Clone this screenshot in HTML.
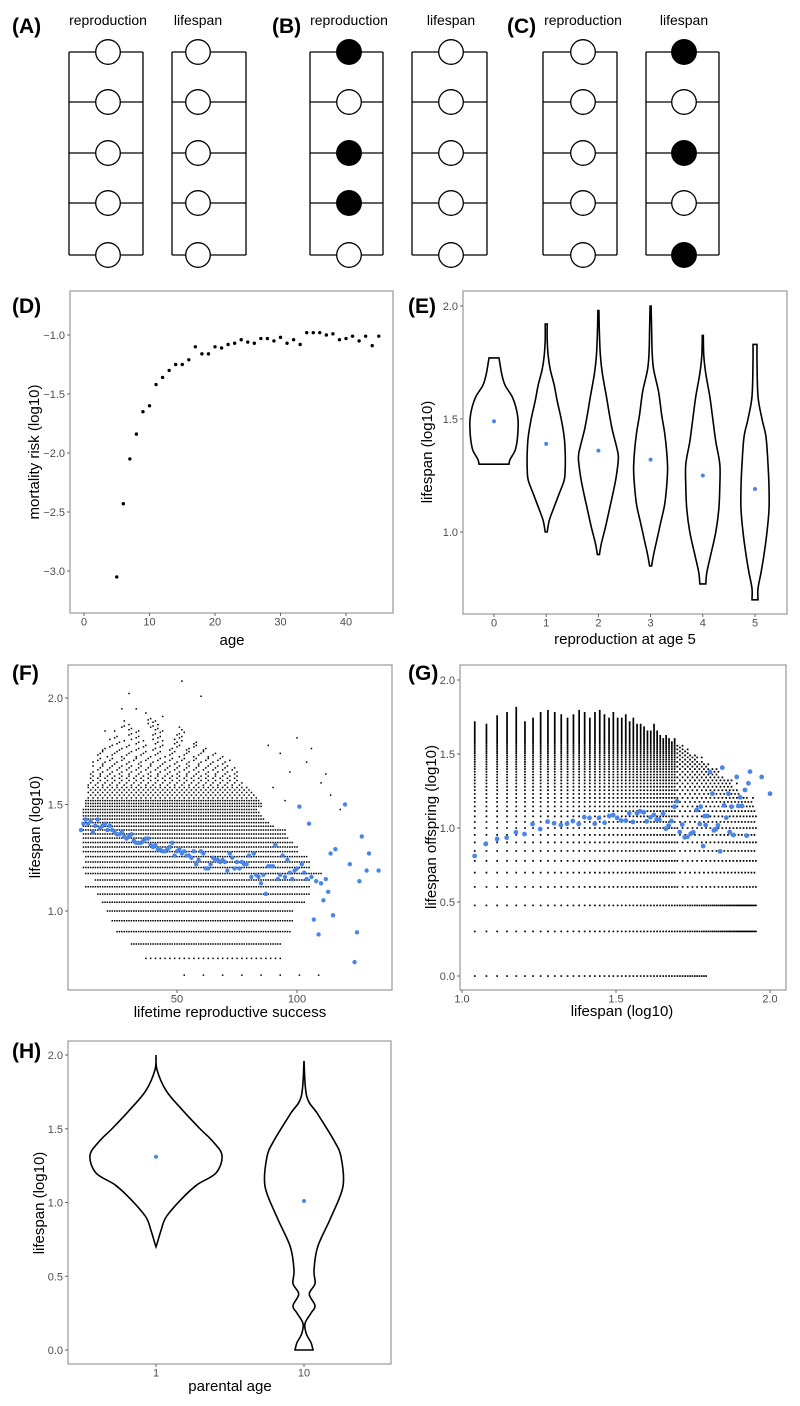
<!DOCTYPE html>
<html><head><meta charset="utf-8"><style>
html,body{margin:0;padding:0;background:#fff;}
svg{display:block;font-family:"Liberation Sans",Arial,sans-serif;}
</style></head><body>
<svg id="fig" width="800" height="1406" viewBox="0 0 800 1406" xmlns="http://www.w3.org/2000/svg"></svg>
<script>
// ---------- Panel D data ----------
const ageD = [5,6,7,8,9,10,11,12,13,14,15,16,17,18,19,20,21,22,23,24,25,26,27,28,29,30,31,32,33,34,35,36,37,38,39,40,41,42,43,44,45];
const mortD = [-3.05,-2.43,-2.05,-1.84,-1.65,-1.60,-1.42,-1.36,-1.30,-1.25,-1.25,-1.21,-1.10,-1.16,-1.16,-1.10,-1.11,-1.08,-1.07,-1.04,-1.06,-1.07,-1.03,-1.03,-1.05,-1.02,-1.07,-1.04,-1.08,-0.98,-0.98,-0.98,-1.00,-0.99,-1.04,-1.03,-1.01,-1.05,-1.01,-1.09,-1.01];
const ticksDx = [0,10,20,30,40];
const ticksDy = [-3.0,-2.5,-2.0,-1.5,-1.0];
// ---------- Panel E data ----------
const catsE = ["0","1","2","3","4","5"];
const meansE = [1.49,1.39,1.36,1.32,1.25,1.19];
const violinYE = [
 [1.77,1.70,1.65,1.60,1.55,1.50,1.45,1.40,1.36,1.32,1.30],
 [1.92,1.85,1.78,1.72,1.65,1.58,1.50,1.42,1.35,1.28,1.23,1.17,1.10,1.05,1.00],
 [1.98,1.88,1.78,1.70,1.60,1.52,1.45,1.38,1.33,1.25,1.18,1.10,1.02,0.95,0.90],
 [2.00,1.90,1.80,1.72,1.62,1.52,1.44,1.36,1.28,1.20,1.12,1.04,0.96,0.90,0.85],
 [1.87,1.78,1.70,1.60,1.50,1.40,1.30,1.20,1.10,1.00,0.90,0.82,0.77],
 [1.83,1.75,1.60,1.50,1.42,1.30,1.20,1.10,1.00,0.90,0.82,0.75,0.70]];
const violinWE = [
 [5,7.7,11,18,22,24,24,23,21,16,15],
 [1,1,2,4,8,11,15,18,19,19,18,13,7,3,1],
 [0.5,1,2,4,8,11,14,18,20,18,15,11,7,3,1],
 [0.5,1,1.5,3,8,11,14,16,17,16,14,10,6,3,1],
 [0.5,1,3,7,10,13,17,17,16,13,8,4,3],
 [2,2,3,7,11,13,14,14,12,9,6,3,3]];
const ticksEy = [1.0,1.5,2.0];
// ---------- Panel F data ----------
const lifeNF = [5,6,7,8,9,10,11,12,13,14,15,16,17,18,19,20,21,22,23,24,25,26,27,28,29,30,
 31,32,33,34,35,36,37,38,39,40,41,42,43,44,45,46,47,48,49,50,51,52,53,54,55,56,57,58,59,60,
 61,62,63,64,65,66,67,68,69,70,71,72,73,74,75,76,77,78,79,80];
const lrsMinF = [48,37,31,25,23,21,19,17,12,16,12,11,12,12,11,11,11,11,11,11,11,11,11,11,11,11,
 12,12,12,13,13,13,13,13,13,13,13,14,14,14,14,15,15,15,15,15,16,16,16,17,17,17,18,18,19,19,
 20,20,21,21,22,22,23,23,24,24,25,25,26,26,27,27,28,28,29,29];
const lrsMaxF = [113,93,93,97,98,98,103,105,105,105,110,105,105,104,100,100,98,96,95,95,90,88,86,85,84,83,
 85,85,84,83,82,81,80,79,78,78,77,76,76,75,75,74,74,73,73,73,72,71,70,69,68,66,65,64,62,60,
 60,59,58,57,56,55,55,54,54,53,53,52,52,51,51,50,50,50,49,49];
const lrsStepF = [8,2,1,1,1,1,1,1,1,1,1,1,1,1,1,1,1,1,1,1,1,1,1,1,1,1,
 1,1,1,2,2,2,2,2,3,3,3,3,3,4,4,4,4,4,5,5,5,5,6,6,6,6,7,7,7,7,
 8,8,8,9,9,9,10,10,10,10,11,11,12,12,12,13,13,13,14,14];
const outlierXF = [52,30,60,27,33,37,20,44,100,106,104,110,93,97,88,114,118,112,95,90];
const outlierNF = [120,105,102,89,89,85,70,82,65,58,50,40,55,45,60,35,30,44,33,38];
const meanXF = [10,11,12,13,14,15,16,17,18,19,20,21,22,23,24,25,26,27,28,29,30,31,32,33,34,35,36,37,38,39,40,41,42,43,44,45,46,47,48,49,50,51,52,53,54,55,56,57,58,59,60,61,62,63,64,65,66,67,68,69,70,71,72,73,74,75,76,77,78,79,80,81,82,83,84,85,86,87,88,89,90,91,92,93,94,95,96,97,98,99,100,101,102,103,104,105,106,107,108,109,110,111,112,113,114,115,116,120,122,124,125,126,127,129,130,134];
const meanYF = [1.38,1.41,1.43,1.41,1.42,1.37,1.40,1.43,1.39,1.40,1.41,1.38,1.40,1.38,1.37,1.36,1.36,1.37,1.35,1.34,1.35,1.36,1.33,1.32,1.32,1.32,1.33,1.34,1.34,1.31,1.30,1.31,1.29,1.29,1.28,1.28,1.29,1.30,1.32,1.26,1.28,1.29,1.27,1.28,1.26,1.26,1.25,1.28,1.22,1.24,1.28,1.27,1.20,1.20,1.22,1.25,1.24,1.24,1.23,1.24,1.23,1.19,1.27,1.25,1.20,1.23,1.20,1.23,1.22,1.22,1.26,1.16,1.27,1.17,1.16,1.13,1.17,1.08,1.21,1.21,1.21,1.31,1.15,1.17,1.26,1.16,1.24,1.18,1.15,1.19,1.20,1.49,1.22,1.18,1.15,1.41,1.16,0.96,1.14,0.89,1.13,1.05,1.15,1.09,1.27,0.98,1.29,1.50,1.22,0.76,0.90,1.14,1.35,1.19,1.27,1.19];
const ticksFx = [50,100];
const ticksFy = [1.0,1.5,2.0];
// ---------- Panel G data ----------
const parentNG = [11,12,13,14,15,16,17,18,19,20,21,22,23,24,25,26,27,28,29,30,31,32,33,34,35,36,37,38,39,40,41,42,43,44,45,46,47,48,49,50,51,52,53,54,55,56,57,58,59,60,61,62,63,64,65,66,67,68,69,70,71,72,73,74,75,76,77,78,79,80,81,82,83,84,85,86,87,88,89,90];
const maxKG = [52,50,57,60,65,52,55,60,62,60,58,55,58,62,60,55,60,62,58,55,60,55,55,58,52,55,50,50,48,45,45,50,45,42,40,42,40,38,40,36,35,36,34,35,32,30,32,30,28,30,28,26,27,25,26,24,25,24,22,23,22,20,22,20,21,19,18,20,18,17,16,18,15,17,16,14,15,16,14,13];
const meanXG = [1.041,1.077,1.114,1.145,1.175,1.203,1.229,1.254,1.278,1.299,1.321,1.341,1.360,1.379,1.397,1.414,1.431,1.445,1.463,1.478,1.491,1.504,1.517,1.532,1.543,1.555,1.568,1.578,1.590,1.600,1.612,1.623,1.632,1.641,1.653,1.662,1.671,1.680,1.690,1.698,1.707,1.715,1.723,1.732,1.743,1.751,1.762,1.772,1.775,1.783,1.788,1.791,1.797,1.805,1.813,1.818,1.824,1.831,1.838,1.845,1.851,1.858,1.865,1.869,1.875,1.881,1.892,1.897,1.903,1.909,1.919,1.924,1.930,1.935,1.973,2.000];
const meanYG = [0.811,0.892,0.926,0.935,0.971,0.959,1.027,0.993,1.043,1.032,1.020,1.029,1.047,1.027,1.074,1.068,1.029,1.068,1.036,1.081,1.088,1.068,1.050,1.050,1.099,1.041,1.099,1.113,1.106,1.045,1.072,1.088,1.056,1.056,1.097,0.995,1.016,1.047,1.144,1.180,0.973,1.023,0.937,0.941,0.962,0.971,1.122,1.027,1.144,0.878,1.081,1.020,1.081,1.378,1.232,0.984,0.991,1.018,0.842,1.408,1.153,1.070,1.232,0.973,1.144,0.953,1.345,1.149,1.207,1.149,1.257,0.948,1.302,1.381,1.345,1.232];
const ticksGx = [1.0,1.5,2.0];
const ticksGy = [0.0,0.5,1.0,1.5,2.0];
// ---------- Panel H data ----------
const catsH = ["1","10"];
const meansH = [1.31,1.01];
const violinYH = [
 [2.0,1.9,1.76,1.63,1.5,1.42,1.32,1.2,1.12,1.02,0.9,0.81,0.72,0.70],
 [1.96,1.72,1.6,1.42,1.31,1.11,0.9,0.7,0.54,0.45,0.38,0.3,0.25,0.18,0.11,0.05,0.0]];
const violinWH = [
 [0,1,10,26,44,56,66,60,41,25,10,5,1,0],
 [0,2.7,13.7,30,37,39,27,13.7,10,11,5.3,11,7,1,2.3,7,9]];
const ticksHy = [0.0,0.5,1.0,1.5,2.0];

// ---------- helpers ----------
const NS = "http://www.w3.org/2000/svg";
const svg = document.getElementById('fig');
function mk(tag, attrs, parent){
  const el = document.createElementNS(NS, tag);
  for (const k in attrs) el.setAttribute(k, attrs[k]);
  (parent||svg).appendChild(el);
  return el;
}
function txt(x,y,s,size,anchor,parent,extra){
  const t = mk('text', Object.assign({x:x,y:y,'font-size':size,'text-anchor':anchor||'start',fill:'#000'}, extra||{}), parent);
  t.textContent = s;
  return t;
}
function fmt(v){ return (v<0?'\u2212':'') + Math.abs(v).toFixed(1); }
function frame(x0,y0,x1,y1,name){
  const r = mk('rect',{x:x0,y:y0,width:x1-x0,height:y1-y0,fill:'#fff',stroke:'#999','stroke-width':1.2});
  
  
}
function yTicks(g,ticks,sy,x0,labelFn,name){
  ticks.forEach(v=>{
    const y = sy(v);
    const l = mk('line',{x1:x0-3,x2:x0,y1:y,y2:y,stroke:'#666','stroke-width':1},g);
    
    
    const t = txt(x0-5,y+4,labelFn(v),11,'end',g,{fill:'#4d4d4d'});
    
    
  });
}
function xTicks(g,ticks,sx,y0,labelFn,name){
  ticks.forEach((v,i)=>{
    const x = sx(v,i);
    const l = mk('line',{x1:x,x2:x,y1:y0,y2:y0+3,stroke:'#666','stroke-width':1},g);
    
    
    const t = txt(x,y0+12.5,labelFn(v,i),11,'middle',g,{fill:'#4d4d4d'});
    
    
  });
}
function axisTitles(g,xt,xx,xy,yt,yx,yy,p){
  const a = txt(xx,xy,xt,15,'middle',g);
  
  
  const b = txt(0,0,yt,15,'middle',g,{transform:'translate('+yx+','+yy+') rotate(-90)'});
  
  
}
function panelLabel(x,y,s){
  const t = txt(x,y,s,21,'start',svg,{'font-weight':'bold'});
  
  
}
function smooth(pts){
  let d = '';
  for (let i=0;i<pts.length-1;i++){
    const p0 = pts[Math.max(0,i-1)], p1 = pts[i], p2 = pts[i+1], p3 = pts[Math.min(pts.length-1,i+2)];
    const c1x = p1[0]+(p2[0]-p0[0])/6, c1y = p1[1]+(p2[1]-p0[1])/6;
    const c2x = p2[0]-(p3[0]-p1[0])/6, c2y = p2[1]-(p3[1]-p1[1])/6;
    d += ' C'+c1x.toFixed(2)+','+c1y.toFixed(2)+' '+c2x.toFixed(2)+','+c2y.toFixed(2)+' '+p2[0].toFixed(2)+','+p2[1].toFixed(2);
  }
  return d;
}
function violinPath(cx, ys, ws, sy){
  const right = ys.map((v,i)=>[cx+ws[i], sy(v)]);
  const left = ys.map((v,i)=>[cx-ws[i], sy(v)]).reverse();
  return 'M'+cx+','+sy(ys[0])+' L'+right[0][0]+','+right[0][1]+smooth(right)+' L'+left[0][0]+','+left[0][1]+smooth(left)+' Z';
}

// ---------- Panels A-C (diagrams) ----------
const diagCols = [
 {label:'reproduction', x0:69, x1:143, cx:108, filled:[0,0,0,0,0]},
 {label:'lifespan', x0:172, x1:246, cx:198, filled:[0,0,0,0,0]},
 {label:'reproduction', x0:310, x1:383, cx:349, filled:[1,0,1,1,0]},
 {label:'lifespan', x0:412, x1:487, cx:451, filled:[0,0,0,0,0]},
 {label:'reproduction', x0:543, x1:617, cx:583, filled:[0,0,0,0,0]},
 {label:'lifespan', x0:646, x1:719, cx:684, filled:[1,0,1,0,1]}];
const rowsY = [52,102,153,203,255];
diagCols.forEach((c,ci)=>{
  const g = mk('g',{});
  
  
  const lb = txt(c.cx,25,c.label,14,'middle',g);
  
  
  mk('line',{x1:c.x0,x2:c.x0,y1:rowsY[0],y2:rowsY[4],stroke:'#000','stroke-width':1.3},g);
  mk('line',{x1:c.x1,x2:c.x1,y1:rowsY[0],y2:rowsY[4],stroke:'#000','stroke-width':1.3},g);
  rowsY.forEach((y,ri)=>{
    mk('line',{x1:c.x0,x2:c.x1,y1:y,y2:y,stroke:'#000','stroke-width':1.3},g);
    const ci2 = mk('circle',{cx:c.cx,cy:y,r:12.3,fill:c.filled[ri]?'#000':'#fff',stroke:'#000','stroke-width':1.3},g);
    
    
  });
});
panelLabel(12,33,'(A)');
panelLabel(272,33,'(B)');
panelLabel(507,33,'(C)');

// ---------- Panel D ----------
(function(){
  const xD = v=>84+v*6.55, yD = v=>335+(-1-v)*118;
  frame(70,291,393,613,'panel-d-plot-area');
  const g = mk('g',{});
  
  
  yTicks(g,ticksDy,yD,70,fmt,'d-y');
  xTicks(g,ticksDx,xD,613,v=>String(v),'d-x');
  ageD.forEach((a,i)=>{
    const c = mk('circle',{cx:xD(a),cy:yD(mortD[i]),r:1.7,fill:'#000'},g);
    
    
  });
  axisTitles(g,'age',232,645,'mortality risk (log10)',39,452,'d');
})();
panelLabel(12,313,'(D)');

// ---------- Panel E ----------
(function(){
  const xE = i=>494+i*52.2, yE = v=>306+(2-v)*226;
  frame(463,291,787,614,'panel-e-plot-area');
  const g = mk('g',{});
  
  
  yTicks(g,ticksEy,yE,463,v=>v.toFixed(1),'e-y');
  xTicks(g,catsE,(v,i)=>xE(i),614,v=>v,'e-x');
  catsE.forEach((c,i)=>{
    const p = mk('path',{d:violinPath(xE(i),violinYE[i],violinWE[i],yE),fill:'none',stroke:'#000','stroke-width':1.6},g);
    
    
    const m = mk('circle',{cx:xE(i),cy:yE(meansE[i]),r:2,fill:'#4a86e8'},g);
    
    
  });
  axisTitles(g,'reproduction at age 5',625,644,'lifespan (log10)',432,452,'e');
})();
panelLabel(408,313,'(E)');

// ---------- Panel F ----------
(function(){
  const xF = v=>177+(v-50)*2.4, yF = v=>698+(2-v)*213;
  frame(68,665,392,990,'panel-f-plot-area');
  const g = mk('g',{});
  
  
  yTicks(g,ticksFy,yF,68,v=>v.toFixed(1),'f-y');
  xTicks(g,ticksFx,xF,990,v=>String(v),'f-x');
  let d = '';
  lifeNF.forEach((n,i)=>{
    const y = yF(Math.log10(n));
    const st = lrsStepF[i];
    for (let x=lrsMinF[i]+(n%st); x<=lrsMaxF[i]; x+=st){
      d += 'M'+(xF(x)-0.7).toFixed(1)+','+(y-0.7).toFixed(1)+'h1.5v1.5h-1.5z';
    }
  });
  outlierXF.forEach((x,i)=>{
    const y = yF(Math.log10(outlierNF[i]));
    d += 'M'+(xF(x)-0.7).toFixed(1)+','+(y-0.7).toFixed(1)+'h1.5v1.5h-1.5z';
  });
  const p = mk('path',{d:d,fill:'#000'},g);
  
  
  meanXF.forEach((x,i)=>{
    const c = mk('circle',{cx:xF(x),cy:yF(meanYF[i]),r:2.2,fill:'#4a86e8'},g);
    
    
  });
  axisTitles(g,'lifetime reproductive success',230,1017,'lifespan (log10)',40,827,'f');
})();
panelLabel(12,680,'(F)');

// ---------- Panel G ----------
(function(){
  const xG = v=>462+(v-1)*308, yG = v=>976-v*148;
  frame(460,665,786,990,'panel-g-plot-area');
  const g = mk('g',{});
  
  
  yTicks(g,ticksGy,yG,460,v=>v.toFixed(1),'g-y');
  xTicks(g,ticksGx,xG,990,v=>v.toFixed(1),'g-x');
  let d = '';
  parentNG.forEach((n,i)=>{
    const x = xG(Math.log10(n));
    const kStart = n>62 ? 2 : 1;
    for (let k=kStart;k<=maxKG[i];k++){
      if (n>=50 && (k+n)%2===1 && k>3) continue;
      const y = yG(Math.log10(k));
      d += 'M'+(x-0.8).toFixed(1)+','+(y-0.8).toFixed(1)+'h1.7v1.7h-1.7z';
    }
  });
  const p = mk('path',{d:d,fill:'#000'},g);
  
  
  meanXG.forEach((x,i)=>{
    const c = mk('circle',{cx:xG(x),cy:yG(meanYG[i]),r:2.4,fill:'#4a86e8'},g);
    
    
  });
  axisTitles(g,'lifespan (log10)',622,1016,'lifespan offspring (log10)',436,827,'g');
})();
panelLabel(408,680,'(G)');

// ---------- Panel H ----------
(function(){
  const catX = [156,304];
  const yH = v=>1350-v*147.5;
  frame(68,1041,391,1364,'panel-h-plot-area');
  const g = mk('g',{});
  
  
  yTicks(g,ticksHy,yH,68,v=>v.toFixed(1),'h-y');
  xTicks(g,catsH,(v,i)=>catX[i],1364,v=>v,'h-x');
  catsH.forEach((c,i)=>{
    const p = mk('path',{d:violinPath(catX[i],violinYH[i],violinWH[i],yH),fill:'none',stroke:'#000','stroke-width':1.6},g);
    
    
    const m = mk('circle',{cx:catX[i],cy:yH(meansH[i]),r:2,fill:'#4a86e8'},g);
    
    
  });
  axisTitles(g,'parental age',230,1391,'lifespan (log10)',44,1203,'h');
})();
panelLabel(12,1058,'(H)');
</script>
</body></html>
